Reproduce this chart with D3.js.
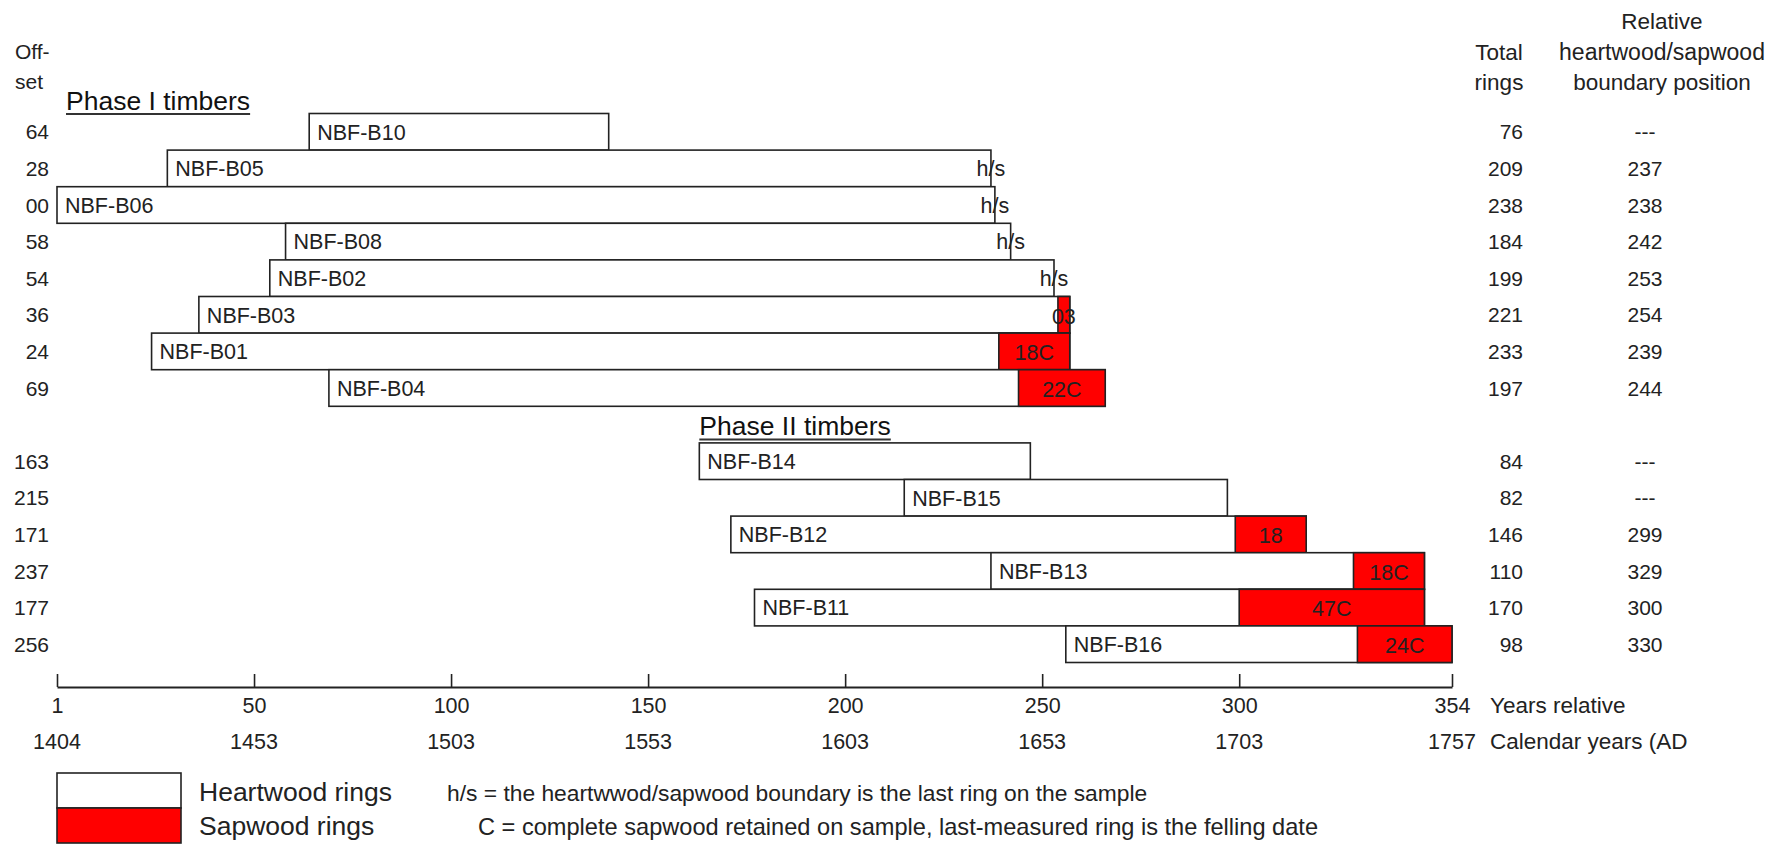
<!DOCTYPE html>
<html>
<head>
<meta charset="utf-8">
<script src="https://cdn.jsdelivr.net/npm/d3@7"></script>
<style>
  html, body { margin: 0; padding: 0; background: #fff; }
  svg { display: block; font-family: "Liberation Sans", Arial, sans-serif; }
</style>
</head>
<body>
<svg id="chart" width="1783" height="844"></svg>
<script>
// ---- data ----
const sampleIds   = ["NBF-B10","NBF-B05","NBF-B06","NBF-B08","NBF-B02","NBF-B03","NBF-B01","NBF-B04",
                     "NBF-B14","NBF-B15","NBF-B12","NBF-B13","NBF-B11","NBF-B16"];
const phases      = [1,1,1,1,1,1,1,1, 2,2,2,2,2,2];
const offsets     = [64,28,0,58,54,36,24,69, 163,215,171,237,177,256];
const totalRings  = [76,209,238,184,199,221,233,197, 84,82,146,110,170,98];
const hsBoundary  = [null,237,238,242,253,254,239,244, null,null,299,329,300,330];
const completeSap = [false,false,false,false,false,false,true,true, false,false,false,true,true,true];
const phaseTitles = ["Phase I timbers","Phase II timbers"];

const axisTicks   = [0,50,100,150,200,250,300,354];
const relLabels   = ["1","50","100","150","200","250","300","354"];
const calLabels   = ["1404","1453","1503","1553","1603","1653","1703","1757"];

const legendItems = ["Heartwood rings","Sapwood rings"];
const notes       = ["h/s = the heartwwod/sapwood boundary is the last ring on the sample",
                     "C = complete sapwood retained on sample, last-measured ring is the felling date"];

// ---- build rows ----
const rows = sampleIds.map((id,i) => {
  const start = offsets[i], end = offsets[i] + totalRings[i];
  const hs = hsBoundary[i];
  let label = "";
  if (hs !== null) {
    const n = end - hs;
    label = n === 0 ? "h/s" : String(n).padStart(2,"0") + (completeSap[i] ? "C" : "");
  }
  const slot = i + (phases[i] === 2 ? 1 : 0);
  return {id, start, end, hs, label, slot, offset: offsets[i], total: totalRings[i]};
});

const svg = d3.select("#chart");
svg.append("rect").attr("width",1783).attr("height",844).attr("fill","#fff");

const x = d3.scaleLinear().domain([0,354]).range([57,1452]);
const y = d3.scaleLinear().domain([0,15]).range([113.5,662.5]);
const rowH = y(1) - y(0);
const stroke = "#222";
const fs = 21.5;
const ink = "#222";

// header
const hdr = svg.append("g").attr("fill",ink);
hdr.append("text").attr("x",15).attr("y",59).attr("font-size",21).text("Off-");
hdr.append("text").attr("x",15).attr("y",89).attr("font-size",21).text("set");
hdr.append("text").attr("x",1499).attr("y",60).attr("font-size",22.5).attr("text-anchor","middle").text("Total");
hdr.append("text").attr("x",1499).attr("y",90).attr("font-size",22.5).attr("text-anchor","middle").text("rings");
hdr.append("text").attr("x",1662).attr("y",29).attr("font-size",22.5).attr("text-anchor","middle").text("Relative");
hdr.append("text").attr("x",1662).attr("y",60).attr("font-size",23).attr("text-anchor","middle").text("heartwood/sapwood");
hdr.append("text").attr("x",1662).attr("y",90).attr("font-size",22.5).attr("text-anchor","middle").text("boundary position");

// phase titles
const titleSlots = [0, 9];
const titleX = [x(0)+9, x(offsets[phases.indexOf(2)])];
const titleBase = [y(0) - 4, y(9) - 8];
phaseTitles.forEach((t,i) => {
  const g = svg.append("g");
  const tx = g.append("text").attr("x",titleX[i]).attr("y",titleBase[i])
    .attr("font-size",26.5).attr("fill","#111").text(t);
  const w = tx.node().getComputedTextLength();
  g.append("line").attr("x1",titleX[i]).attr("x2",titleX[i]+w)
    .attr("y1",titleBase[i] + 4.5).attr("y2",titleBase[i] + 4.5)
    .attr("stroke","#333").attr("stroke-width",2);
});

// bars
const bars = svg.append("g");
rows.forEach(r => {
  const top = y(r.slot);
  bars.append("rect").attr("x",x(r.start)).attr("y",top)
    .attr("width",x(r.end)-x(r.start)).attr("height",rowH)
    .attr("fill","#fff").attr("stroke",stroke).attr("stroke-width",1.6);
  if (r.hs !== null && r.end > r.hs) {
    bars.append("rect").attr("x",x(r.hs)).attr("y",top)
      .attr("width",x(r.end)-x(r.hs)).attr("height",rowH)
      .attr("fill","#ff0000").attr("stroke",stroke).attr("stroke-width",1.6);
  }
});
rows.forEach(r => {
  const cy = y(r.slot) + rowH/2;
  bars.append("text").attr("x",x(r.start)+8).attr("y",cy).attr("dy","0.36em")
    .attr("font-size",fs).attr("fill",ink).text(r.id);
  if (r.label) {
    const lx = r.label === "h/s" ? x(r.end) : (x(r.hs)+x(r.end))/2;
    bars.append("text").attr("x",lx).attr("y",cy + (r.label === "h/s" ? 0 : 1)).attr("dy","0.36em")
      .attr("text-anchor","middle").attr("font-size",fs).attr("fill",ink).text(r.label);
  }
  svg.append("text").attr("x",49).attr("y",cy).attr("dy","0.36em").attr("text-anchor","end")
    .attr("font-size",21).attr("fill",ink).text(String(r.offset).padStart(2,"0"));
  svg.append("text").attr("x",1523).attr("y",cy).attr("dy","0.36em").attr("text-anchor","end")
    .attr("font-size",21).attr("fill",ink).text(r.total);
  svg.append("text").attr("x",1645).attr("y",cy).attr("dy","0.36em").attr("text-anchor","middle")
    .attr("font-size",21).attr("fill",ink).text(r.hs === null ? "---" : r.hs);
});

// axis
const axisY = 687;
const axis = d3.axisBottom(x).tickValues(axisTicks)
  .tickSizeInner(-13).tickSizeOuter(0).tickPadding(11)
  .tickFormat((d,i) => relLabels[i]);
const ag = svg.append("g").attr("transform",`translate(0,${axisY})`).call(axis);
ag.select(".domain").attr("stroke",stroke).attr("stroke-width",2);
ag.selectAll(".tick line").attr("stroke",stroke).attr("stroke-width",1.6);
ag.selectAll(".tick text").attr("font-size",21.5).attr("fill",ink)
  .attr("font-family","Liberation Sans, Arial, sans-serif");
const cal = svg.append("g");
axisTicks.forEach((t,i) => {
  cal.append("text").attr("x",x(t)).attr("y",749).attr("text-anchor","middle")
    .attr("font-size",21.5).attr("fill",ink).text(calLabels[i]);
});
svg.append("text").attr("x",1490).attr("y",713).attr("font-size",22.5).attr("fill",ink).text("Years relative");
svg.append("text").attr("x",1490).attr("y",749).attr("font-size",22.5).attr("fill",ink).text("Calendar years (AD");

// legend
const lg = svg.append("g");
lg.append("rect").attr("x",57).attr("y",773).attr("width",124).attr("height",35)
  .attr("fill","#fff").attr("stroke",stroke).attr("stroke-width",1.6);
lg.append("rect").attr("x",57).attr("y",808).attr("width",124).attr("height",35)
  .attr("fill","#ff0000").attr("stroke",stroke).attr("stroke-width",1.6);
legendItems.forEach((t,i) => {
  lg.append("text").attr("x",199).attr("y",801 + i*34).attr("font-size",26.5).attr("fill",ink).text(t);
});
const noteX = [447, 478];
const noteFs = [22.8, 23.6];
notes.forEach((t,i) => {
  lg.append("text").attr("x",noteX[i]).attr("y",801 + i*34).attr("font-size",noteFs[i]).attr("fill",ink).text(t);
});
</script>
</body>
</html>
